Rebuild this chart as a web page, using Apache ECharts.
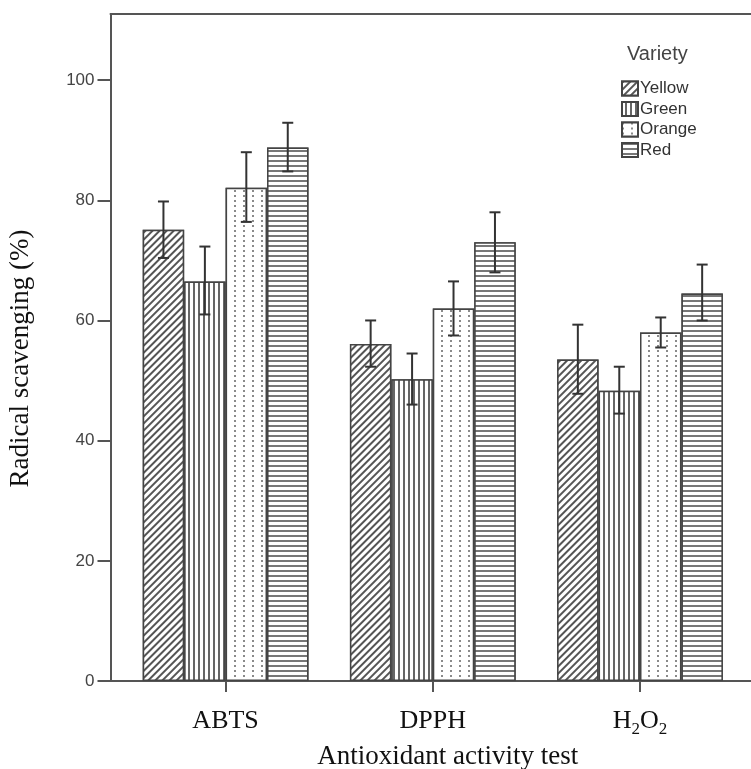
<!DOCTYPE html>
<html>
<head>
<meta charset="utf-8">
<script src="https://cdn.jsdelivr.net/npm/echarts@6/dist/echarts.min.js"></script>
<style>
  html, body { margin: 0; padding: 0; background: #fff; }
  #chart { width: 751px; height: 769px; }
</style>
</head>
<body>
<div id="chart"></div>
<script>
const categories = ["ABTS", "DPPH", "H2O2"];
const varieties = ["Yellow", "Green", "Orange", "Red"];

// mean radical scavenging (%)
const yellow = [75.1, 56.1, 53.5];
const green = [66.5, 50.2, 48.3];
const orange = [82.1, 62.0, 58.0];
const red = [88.8, 73.0, 64.5];

// error bar ends
const yellowLow = [70.4, 52.3, 47.8];
const yellowHigh = [79.8, 60.0, 59.3];
const greenLow = [61.0, 46.0, 44.5];
const greenHigh = [72.3, 54.5, 52.3];
const orangeLow = [76.4, 57.5, 55.5];
const orangeHigh = [88.0, 66.5, 60.5];
const redLow = [84.8, 68.0, 60.0];
const redHigh = [92.9, 78.0, 69.3];

const yTicks = [0, 20, 40, 60, 80, 100];
const yMax = 111;

const means = [yellow, green, orange, red];
const lows = [yellowLow, greenLow, orangeLow, redLow];
const highs = [yellowHigh, greenHigh, orangeHigh, redHigh];

// fill patterns, one per variety
const decals = [
  { symbol: "rect", symbolSize: 1, color: "#555", backgroundColor: "#fff",
    dashArrayX: [1, 0], dashArrayY: [1.6, 2.8], rotation: -Math.PI / 4 },
  { symbol: "rect", symbolSize: 1, color: "#666", backgroundColor: "#fff",
    dashArrayX: [1, 0], dashArrayY: [2, 2.4], rotation: Math.PI / 2 },
  { symbol: "rect", symbolSize: 1, color: "#8a8a8a", backgroundColor: "#fff",
    dashArrayX: [1.8, 6.5], dashArrayY: [2, 2.2] },
  { symbol: "rect", symbolSize: 1, color: "#777", backgroundColor: "#fff",
    dashArrayX: [1, 0], dashArrayY: [2, 2.5] },
];

const BAR_SHARE = 0.8; // 20% category gap

const serif = "'Liberation Serif', 'Times New Roman', serif";
const sans = "'Liberation Sans', Arial, sans-serif";
const axisColor = "#555";

const barSeries = varieties.map((name, k) => ({
  name: name,
  type: "bar",
  xAxisIndex: 0,
  yAxisIndex: 0,
  data: means[k],
  barGap: 0,
  barCategoryGap: "20%",
  itemStyle: {
    color: "#fff",
    borderColor: "#444",
    borderWidth: 1.5,
    decal: decals[k],
  },
  emphasis: { disabled: true },
}));

const errorSeries = varieties.map((name, k) => ({
  name: name + " error",
  type: "custom",
  xAxisIndex: 0,
  yAxisIndex: 0,
  z: 5,
  encode: { x: 0, y: [1, 2] },
  data: categories.map((c, i) => [i, lows[k][i], highs[k][i]]),
  renderItem: (params, api) => {
    const i = api.value(0);
    const lo = api.coord([i, api.value(1)]);
    const hi = api.coord([i, api.value(2)]);
    const band = api.size([1, 0])[0];
    const bw = (band * BAR_SHARE) / varieties.length;
    const cx = lo[0] + (k - (varieties.length - 1) / 2) * bw;
    const cap = 5.5;
    const style = { stroke: "#333", lineWidth: 2 };
    return {
      type: "group",
      children: [
        { type: "line", shape: { x1: cx, y1: lo[1], x2: cx, y2: hi[1] }, style: style },
        { type: "line", shape: { x1: cx - cap, y1: hi[1], x2: cx + cap, y2: hi[1] }, style: style },
        { type: "line", shape: { x1: cx - cap, y1: lo[1], x2: cx + cap, y2: lo[1] }, style: style },
      ],
    };
  },
}));

const chart = echarts.init(document.getElementById("chart"));
chart.setOption({
  animation: false,
  backgroundColor: "#fff",
  title: {
    text: "Variety",
    left: 627,
    top: 44,
    padding: 0,
    textStyle: { fontFamily: sans, fontSize: 20, fontWeight: "normal", color: "#444" },
  },
  legend: {
    data: varieties,
    orient: "vertical",
    left: 621,
    top: 80,
    icon: "rect",
    itemWidth: 16,
    itemHeight: 14,
    itemGap: 3.5,
    padding: 0,
    textStyle: { fontFamily: sans, fontSize: 17, color: "#333", padding: [0, 0, 0, -3] },
  },
  grid: [
    // data area (bands)
    { left: 122, right: 7.4, top: 14, bottom: 88, outerBoundsMode: "none" },
    // frame
    { left: 110.5, right: -3, top: 14, bottom: 88, outerBoundsMode: "none" },
  ],
  xAxis: [
    {
      type: "category",
      gridIndex: 0,
      data: categories,
      axisLine: { show: false },
      axisTick: { show: true, interval: 0, alignWithLabel: true, length: 11, lineStyle: { color: axisColor, width: 2 } },
      axisLabel: {
        interval: 0,
        margin: 26,
        fontFamily: serif,
        fontSize: 26,
        color: "#111",
        formatter: (v) => (v === "H2O2" ? "{n|H}{s|2}{n|O}{s|2}" : "{n|" + v + "}"),
        rich: {
          n: { fontFamily: serif, fontSize: 26, color: "#111", lineHeight: 28 },
          s: { fontFamily: serif, fontSize: 17, color: "#111", lineHeight: 28, verticalAlign: "bottom", padding: [0, 0, -3, 0] },
        },
      },
      name: "Antioxidant activity test",
      nameLocation: "middle",
      nameGap: 62,
      nameTextStyle: { fontFamily: serif, fontSize: 27, color: "#111", padding: [0, 0, 0, 30] },
    },
    {
      type: "value",
      gridIndex: 1,
      position: "bottom",
      axisLine: { show: true, onZero: false, lineStyle: { color: axisColor, width: 2 } },
      axisTick: { show: false },
      axisLabel: { show: false },
      splitLine: { show: false },
    },
    {
      type: "value",
      gridIndex: 1,
      position: "top",
      axisLine: { show: true, onZero: false, lineStyle: { color: axisColor, width: 2 } },
      axisTick: { show: false },
      axisLabel: { show: false },
      splitLine: { show: false },
    },
  ],
  yAxis: [
    {
      type: "value",
      gridIndex: 0,
      min: 0,
      max: yMax,
      show: false,
      splitLine: { show: false },
    },
    {
      type: "value",
      gridIndex: 1,
      min: 0,
      max: yMax,
      axisLine: { show: true, onZero: false, lineStyle: { color: axisColor, width: 2 } },
      axisTick: { show: true, length: 13, customValues: yTicks, lineStyle: { color: axisColor, width: 2 } },
      axisLabel: { customValues: yTicks, margin: 16, fontFamily: sans, fontSize: 17, color: "#444" },
      splitLine: { show: false },
      name: "Radical scavenging (%)",
      nameLocation: "middle",
      nameGap: 76,
      nameRotate: 90,
      nameTextStyle: { fontFamily: serif, fontSize: 27, color: "#111", padding: [0, 22, 0, 0] },
    },
  ],
  series: barSeries.concat(errorSeries),
});
</script>
</body>
</html>
